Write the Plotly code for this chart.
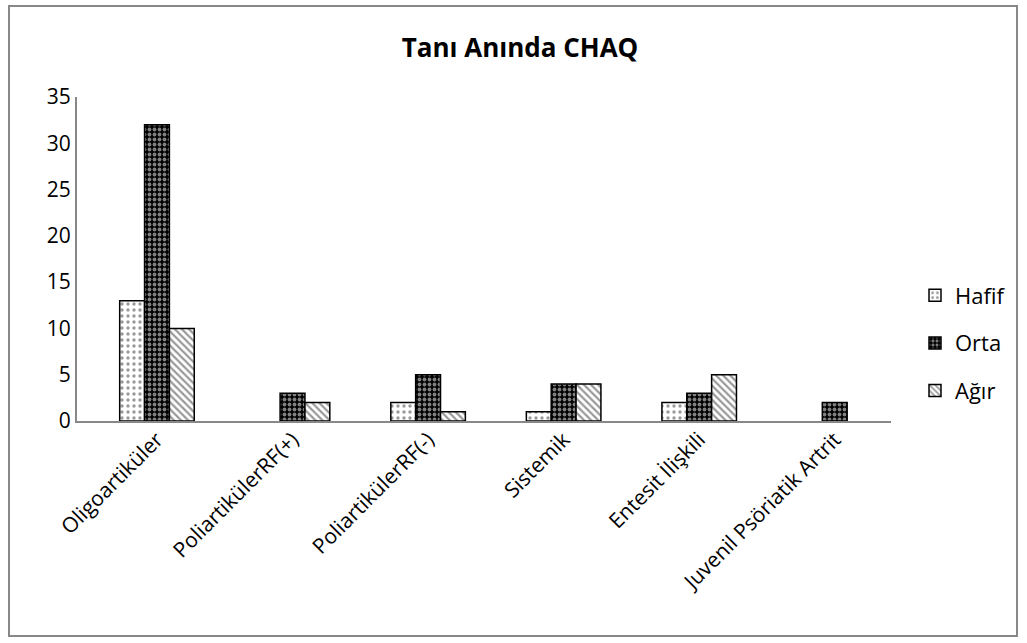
import plotly.graph_objects as go

categories = ["Oligoartiküler", "PoliartikülerRF(+)", "PoliartikülerRF(-)", "Sistemik",
              "Entesit İlişkili", "Juvenil Psöriatik Artrit"]
hafif = [13, 0, 2, 1, 2, 0]
orta = [32, 3, 5, 4, 3, 2]
agir = [10, 2, 1, 4, 5, 0]
series_names = ["Hafif", "Orta", "Ağır"]

FONT = "Open Sans"
W, H = 1027, 643
PL, PR, PT, PB = 77, 891, 97, 421  # plot area in page pixels

patterns = [
    dict(shape=".", fgcolor="#333333", bgcolor="white", size=6, solidity=0.25),
    dict(shape=".", fgcolor="white", bgcolor="black", size=5, solidity=0.45),
    dict(shape="\\", fgcolor="#333333", bgcolor="white", size=5, solidity=0.45),
]

fig = go.Figure()
for i, (name, vals) in enumerate(zip(series_names, [hafif, orta, agir])):
    fig.add_trace(go.Bar(
        x=categories, y=vals, name=name, legendgroup=name,
        marker=dict(color="white", pattern=patterns[i],
                    line=dict(color="black", width=[1.5 if v else 0 for v in vals])),
    ))

pw, ph = PR - PL, PB - PT
fig.update_layout(
    width=W, height=H,
    paper_bgcolor="white", plot_bgcolor="white",
    margin=dict(l=PL, r=W - PR, t=PT, b=H - PB),
    barmode="group", bargap=0.45, bargroupgap=0,
    font=dict(family=FONT, size=21, color="black"),
    title=dict(text="<b>Tanı Anında CHAQ</b>", x=520 / W, xref="container", xanchor="center",
               y=1 - 48 / H, yref="container", yanchor="middle",
               font=dict(family=FONT, size=26, color="black")),
    legend=dict(x=(915 - PL) / pw, xanchor="left", y=(PB - 343) / ph, yanchor="middle",
                font=dict(family=FONT, size=22), traceorder="grouped",
                tracegroupgap=16, itemwidth=30),
    showlegend=True,
)
fig.update_xaxes(showline=True, linecolor="#888888", linewidth=2, ticks="",
                 tickangle=-45, showgrid=False, tickfont=dict(size=21),
                 range=[-0.59, 5.415], ticklabelstandoff=-4)
fig.update_yaxes(range=[0, 35], dtick=5, showline=True, linecolor="#888888", linewidth=2,
                 ticks="", showgrid=False, zeroline=False, tickfont=dict(size=21))

fig.add_shape(type="rect", xref="paper", yref="paper",
              x0=(9 - PL) / pw, x1=(1017 - PL) / pw,
              y0=(PB - 636) / ph, y1=(PB - 6) / ph,
              line=dict(color="#888888", width=2), fillcolor="rgba(0,0,0,0)")

fig.write_html("out.html", config={"displayModeBar": False},
               post_script="document.body.style.margin='0';document.body.style.overflow='hidden';")
